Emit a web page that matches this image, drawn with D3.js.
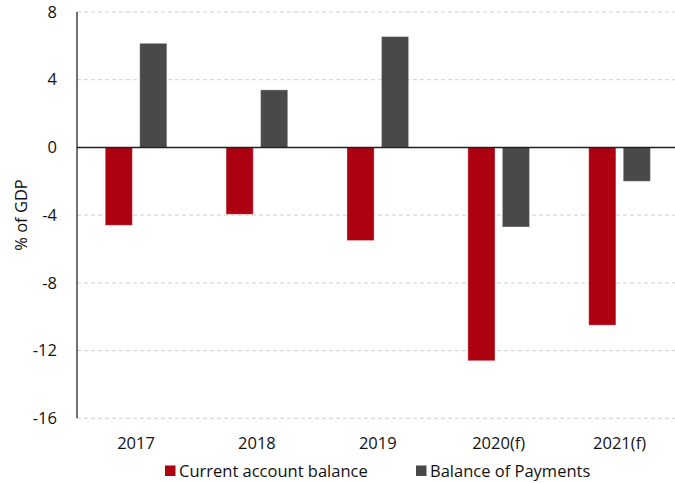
<!DOCTYPE html>
<html>
<head>
<meta charset="utf-8">
<script src="https://cdn.jsdelivr.net/npm/d3@7"></script>
<style>
  body { margin: 0; background: #fff; }
  svg { display: block; font-family: "Open Sans", sans-serif; }
</style>
</head>
<body>
<div id="chart"></div>
<script>
// data
const years = ['2017', '2018', '2019', '2020(f)', '2021(f)'];
const currentAccount = [-4.6, -3.95, -5.5, -12.6, -10.5];
const balancePayments = [6.15, 3.4, 6.55, -4.7, -2.0];
const seriesNames = ['Current account balance', 'Balance of Payments'];
const seriesColors = ['#ad0010', '#494949'];
const yTicks = [8, 4, 0, -4, -8, -12, -16];

const width = 675, height = 483;
const svg = d3.select('#chart').append('svg')
  .attr('width', width)
  .attr('height', height);

const y = d3.scaleLinear().domain([-16, 8]).range([418.3, 12]);

// bar groups
const x0 = d3.scaleBand().domain(years).range([75.6, 680]).paddingInner(0.49).paddingOuter(0.245);
const x1 = d3.scaleBand().domain(seriesNames).range([0, x0.bandwidth()]).paddingInner(0.213);

// gridlines
svg.append('g')
  .selectAll('line')
  .data(yTicks.filter(d => d !== 0))
  .join('line')
  .attr('x1', 77).attr('x2', width)
  .attr('y1', d => y(d)).attr('y2', d => y(d))
  .attr('stroke', '#d0d0d0')
  .attr('stroke-width', 1)
  .attr('stroke-dasharray', '4,3');

// y tick labels
svg.append('g')
  .selectAll('text')
  .data(yTicks)
  .join('text')
  .attr('x', 57)
  .attr('y', d => y(d))
  .attr('dy', '0.35em')
  .attr('text-anchor', 'end')
  .attr('font-size', 16.5)
  .attr('fill', '#111')
  .text(d => d);

// axis title
svg.append('text')
  .attr('transform', 'translate(21,215) rotate(-90)')
  .attr('dy', '0.35em')
  .attr('text-anchor', 'middle')
  .attr('font-size', 16.5)
  .attr('fill', '#111')
  .text('% of GDP');

// bars
const rows = years.map((yr, i) => ({ year: yr, values: [currentAccount[i], balancePayments[i]] }));
svg.append('g')
  .selectAll('g')
  .data(rows)
  .join('g')
  .attr('transform', d => `translate(${x0(d.year)},0)`)
  .selectAll('rect')
  .data(d => d.values.map((v, i) => ({ key: seriesNames[i], value: v, color: seriesColors[i] })))
  .join('rect')
  .attr('x', d => x1(d.key))
  .attr('width', x1.bandwidth())
  .attr('y', d => y(Math.max(0, d.value)))
  .attr('height', d => Math.abs(y(d.value) - y(0)))
  .attr('fill', d => d.color)
  .attr('stroke', 'rgba(255,255,255,0.35)')
  .attr('stroke-width', 1);

// zero line and left axis
svg.append('line')
  .attr('x1', 77).attr('x2', width)
  .attr('y1', y(0)).attr('y2', y(0))
  .attr('stroke', '#222').attr('stroke-width', 1.5);
svg.append('line')
  .attr('x1', 77).attr('x2', 77)
  .attr('y1', y(8)).attr('y2', y(-16))
  .attr('stroke', '#111').attr('stroke-width', 1.2);

// category labels
svg.append('g')
  .selectAll('text')
  .data(years)
  .join('text')
  .attr('x', d => x0(d) + x0.bandwidth() / 2)
  .attr('y', 443)
  .attr('dy', '0.35em')
  .attr('text-anchor', 'middle')
  .attr('font-size', 16.5)
  .attr('fill', '#111')
  .text(d => d);

// legend
const legendX = [165, 416];
const legend = svg.append('g')
  .selectAll('g')
  .data(seriesNames)
  .join('g')
  .attr('transform', (d, i) => `translate(${legendX[i]},471)`);
legend.append('rect')
  .attr('x', 0).attr('y', -5.5)
  .attr('width', 10.5).attr('height', 10.5)
  .attr('fill', (d, i) => seriesColors[i]);
legend.append('text')
  .attr('x', 14)
  .attr('dy', '0.35em')
  .attr('font-size', 16.5)
  .attr('fill', '#111')
  .text(d => d);
</script>
</body>
</html>
